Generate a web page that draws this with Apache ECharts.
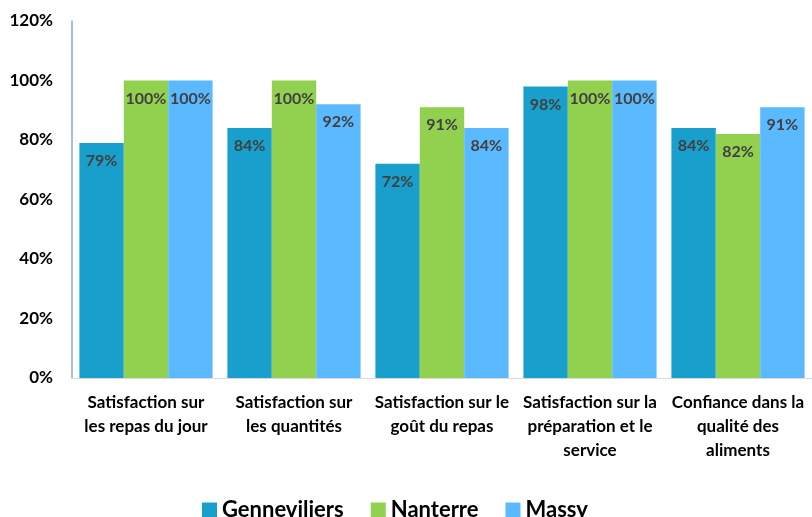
<!DOCTYPE html>
<html>
<head>
<meta charset="utf-8">
<script src="https://cdn.jsdelivr.net/npm/echarts@6/dist/echarts.min.js"></script>
<style>
  html, body { margin: 0; padding: 0; background: #fff; }
  #chart { width: 812px; height: 517px; }
</style>
</head>
<body>
<div id="chart"></div>
<script>
const categories = [
  "Satisfaction sur\nles repas du jour",
  "Satisfaction sur\nles quantités",
  "Satisfaction sur le\ngoût du repas",
  "Satisfaction sur la\npréparation et le\nservice",
  "Confiance dans la\nqualité des\naliments"
];
const genneviliers = [79, 84, 72, 98, 84];
const nanterre = [100, 100, 91, 100, 82];
const massy = [100, 92, 84, 100, 91];

const color = ["#189FCB", "#92D050", "#5BB9FF"];
const font = "Lato, 'Open Sans', sans-serif";

const chart = echarts.init(document.getElementById("chart"));

const makeSeries = (name, data) => ({
  name,
  type: "bar",
  data,
  barGap: "0%",
  barCategoryGap: "10%",
  label: {
    show: true,
    position: "insideTop",
    distance: 10,
    formatter: "{c}%",
    color: "#404040",
    fontWeight: "bold",
    fontSize: 16,
    fontFamily: font
  }
});

const option = {
  color,
  animation: false,
  grid: { left: 72, top: 21, width: 746, height: 357, containLabel: false },
  legend: {
    top: 494,
    left: 197,
    itemWidth: 15,
    itemHeight: 15,
    itemGap: 27,
    icon: "rect",
    textStyle: { color: "#000", fontWeight: "bold", fontSize: 22, fontFamily: font }
  },
  xAxis: {
    type: "category",
    data: categories,
    axisLine: { show: true, lineStyle: { color: "#D9D9D9", width: 1 } },
    axisTick: { show: false },
    axisLabel: {
      interval: 0,
      color: "#000",
      fontWeight: "bold",
      fontSize: 17,
      lineHeight: 24,
      margin: 13,
      fontFamily: font
    }
  },
  yAxis: {
    type: "value",
    min: 0,
    max: 120,
    interval: 20,
    axisLine: { show: true, lineStyle: { color: "#8EA9DB", width: 1.5 } },
    axisTick: { show: false },
    splitLine: { show: false },
    axisLabel: {
      formatter: "{value}%",
      color: "#000",
      fontWeight: "bold",
      fontSize: 17,
      margin: 19,
      fontFamily: font
    }
  },
  series: [
    makeSeries("Genneviliers", genneviliers),
    makeSeries("Nanterre", nanterre),
    makeSeries("Massy", massy)
  ]
};

chart.setOption(option);
</script>
</body>
</html>
